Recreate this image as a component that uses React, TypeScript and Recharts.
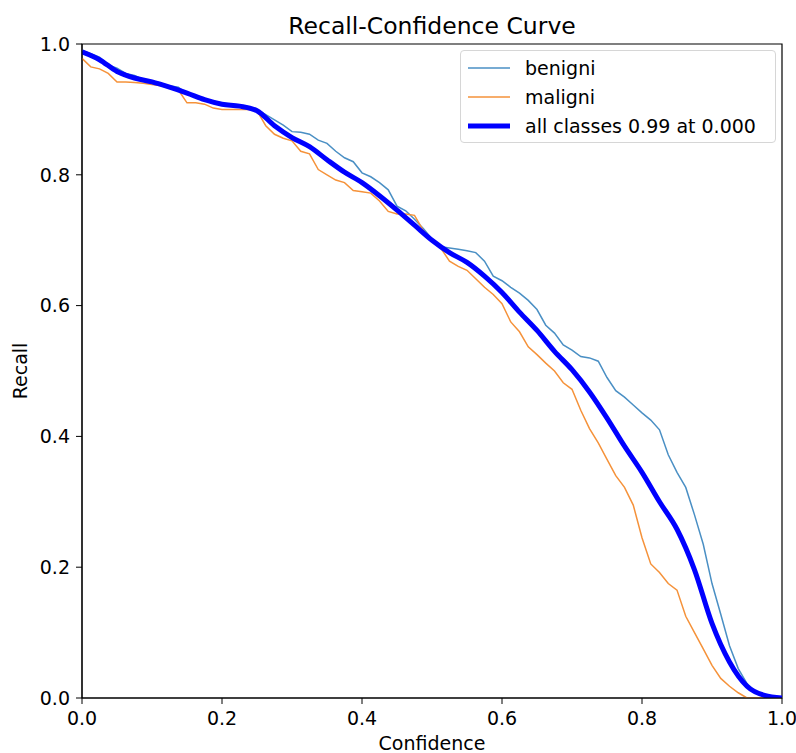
import React from "react";
import { LineChart, Line, XAxis, YAxis, Legend, ReferenceArea, Label } from "recharts";

// per-class curves are read on a finer confidence grid
const confidenceFine = [
  0, 0.0125, 0.025, 0.0375, 0.05, 0.0625, 0.075, 0.0875, 0.1, 0.1125,
  0.125, 0.1375, 0.15, 0.1625, 0.175, 0.1875, 0.2, 0.2125, 0.225, 0.2375,
  0.25, 0.2625, 0.275, 0.2875, 0.3, 0.3125, 0.325, 0.3375, 0.35, 0.3625,
  0.375, 0.3875, 0.4, 0.4125, 0.425, 0.4375, 0.45, 0.4625, 0.475, 0.4875,
  0.5, 0.5125, 0.525, 0.5375, 0.55, 0.5625, 0.575, 0.5875, 0.6, 0.6125,
  0.625, 0.6375, 0.65, 0.6625, 0.675, 0.6875, 0.7, 0.7125, 0.725, 0.7375,
  0.75, 0.7625, 0.775, 0.7875, 0.8, 0.8125, 0.825, 0.8375, 0.85, 0.8625,
  0.875, 0.8875, 0.9, 0.9125, 0.925, 0.9375, 0.95, 0.9625, 0.975, 0.9875, 1,
];

const benigni = [
  0.99, 0.985, 0.98, 0.968, 0.963, 0.955, 0.952, 0.946, 0.943, 0.94,
  0.936, 0.934, 0.924, 0.921, 0.916, 0.913, 0.91, 0.908, 0.906, 0.904,
  0.9, 0.892, 0.884, 0.876, 0.866, 0.865, 0.862, 0.853, 0.848, 0.836,
  0.826, 0.82, 0.803, 0.797, 0.788, 0.777, 0.752, 0.745, 0.732, 0.718,
  0.702, 0.69, 0.688, 0.686, 0.684, 0.681, 0.668, 0.645, 0.638, 0.628,
  0.619, 0.608, 0.594, 0.57, 0.558, 0.54, 0.532, 0.522, 0.52, 0.515,
  0.49, 0.47, 0.46, 0.448, 0.436, 0.425, 0.41, 0.372, 0.345, 0.322,
  0.28, 0.235, 0.175, 0.128, 0.08, 0.045, 0.022, 0.009, 0.003, 0.001, 0,
];

const maligni = [
  0.978, 0.965, 0.962, 0.955, 0.942, 0.942, 0.941, 0.94, 0.938, 0.936,
  0.933, 0.93, 0.91, 0.91, 0.908, 0.902, 0.9, 0.9, 0.9, 0.9,
  0.898, 0.875, 0.862, 0.856, 0.852, 0.836, 0.832, 0.808, 0.8, 0.792,
  0.788, 0.776, 0.774, 0.772, 0.76, 0.744, 0.74, 0.74, 0.738, 0.715,
  0.7, 0.688, 0.668, 0.66, 0.654, 0.641, 0.628, 0.617, 0.603, 0.575,
  0.56, 0.537, 0.525, 0.512, 0.5, 0.482, 0.472, 0.44, 0.412, 0.39,
  0.365, 0.34, 0.322, 0.295, 0.245, 0.205, 0.192, 0.175, 0.165, 0.125,
  0.1, 0.075, 0.05, 0.03, 0.018, 0.008, 0, 0, 0, 0, 0,
];

// mean curve over all classes
const confidenceCoarse = [
  0, 0.025, 0.05, 0.075, 0.1, 0.125, 0.15, 0.175, 0.2, 0.225,
  0.25, 0.275, 0.3, 0.325, 0.35, 0.375, 0.4, 0.425, 0.45, 0.475,
  0.5, 0.525, 0.55, 0.575, 0.6, 0.625, 0.65, 0.675, 0.7, 0.725,
  0.75, 0.775, 0.8, 0.825, 0.85, 0.875, 0.9, 0.925, 0.95, 0.975, 1,
];

const allClasses = [
  0.988, 0.976, 0.958, 0.948, 0.942, 0.934, 0.925, 0.915, 0.908, 0.905,
  0.898, 0.875, 0.857, 0.843, 0.823, 0.804, 0.788, 0.768, 0.746, 0.723,
  0.7, 0.681, 0.666, 0.645, 0.62, 0.59, 0.562, 0.53, 0.502, 0.468,
  0.428, 0.385, 0.345, 0.3, 0.258, 0.196, 0.114, 0.055, 0.018, 0.004, 0,
];

const ticks = [0, 0.2, 0.4, 0.6, 0.8, 1.0];

const fineRows = confidenceFine.map((x, i) => ({ x, benigni: benigni[i], maligni: maligni[i] }));
const coarseRows = confidenceCoarse.map((x, i) => ({ x, all: allClasses[i] }));

const FONT = "'DejaVu Sans', sans-serif";

const legendItems = [
  { label: "benigni", color: "#4a8fc4", width: 1.5 },
  { label: "maligni", color: "#f5923a", width: 1.5 },
  { label: "all classes 0.99 at 0.000", color: "#0000ff", width: 5 },
];

const renderLegend = () => (
  <div
    style={{
      border: "1px solid #d6d6d6",
      borderRadius: 4,
      background: "#fff",
      padding: "2px 0 2px 6px",
      fontFamily: FONT,
      fontSize: 19,
      color: "#000",
    }}
  >
    {legendItems.map((it) => (
      <div key={it.label} style={{ display: "flex", alignItems: "center", height: 29 }}>
        <svg width={58} height={10}>
          <line x1={1} y1={5} x2={43} y2={5} stroke={it.color} strokeWidth={it.width} />
        </svg>
        <span>{it.label}</span>
      </div>
    ))}
  </div>
);

export default function App() {
  return (
    <div style={{ position: "absolute", left: 0, top: 0, width: 796, height: 753, background: "#fff" }}>
      <div
        style={{
          position: "absolute",
          left: 82,
          width: 700,
          top: 12,
          textAlign: "center",
          fontFamily: FONT,
          fontSize: 23.5,
          color: "#000",
        }}
      >
        Recall-Confidence Curve
      </div>
      <LineChart width={796} height={753} margin={{ top: 44, right: 14, bottom: 25, left: 30 }}>
        <XAxis
          dataKey="x"
          type="number"
          domain={[0, 1]}
          ticks={ticks}
          tickFormatter={(v: number) => v.toFixed(1)}
          height={30}
          tickSize={6}
          tickMargin={8}
          stroke="#000"
          tick={{ fill: "#000", fontSize: 19, fontFamily: FONT }}
          allowDataOverflow
          allowDuplicatedCategory={false}
        >
          <Label value="Confidence" position="insideBottom" offset={-22} fill="#000" fontSize={19} fontFamily={FONT} />
        </XAxis>
        <YAxis
          type="number"
          domain={[0, 1]}
          ticks={ticks}
          tickFormatter={(v: number) => v.toFixed(1)}
          width={52}
          tickSize={6}
          tickMargin={6}
          stroke="#000"
          tick={{ fill: "#000", fontSize: 19, fontFamily: FONT }}
          allowDataOverflow
        >
          <Label value="Recall" angle={-90} position="insideLeft" offset={-10} fill="#000" fontSize={19} fontFamily={FONT} style={{ textAnchor: "middle" }} />
        </YAxis>
        <ReferenceArea x1={0} x2={1} y1={0} y2={1} fill="none" stroke="#000" strokeWidth={1.2} fillOpacity={0} />
        <Line data={fineRows} type="linear" dataKey="benigni" stroke="#4a8fc4" strokeWidth={1.5} dot={false} isAnimationActive={false} />
        <Line data={fineRows} type="linear" dataKey="maligni" stroke="#f5923a" strokeWidth={1.5} dot={false} isAnimationActive={false} />
        <Line data={coarseRows} type="monotone" dataKey="all" stroke="#0000ff" strokeWidth={5} dot={false} isAnimationActive={false} />
        <Legend
          layout="vertical"
          align="center"
          verticalAlign="middle"
          content={renderLegend}
          wrapperStyle={{ left: 460, top: 50, width: 316 }}
        />
      </LineChart>
    </div>
  );
}
